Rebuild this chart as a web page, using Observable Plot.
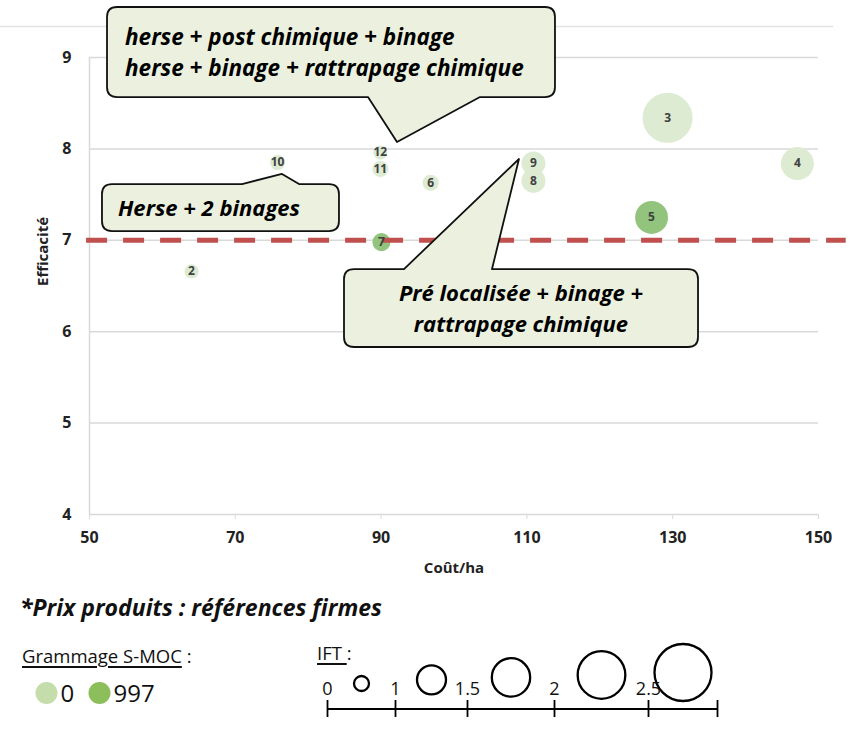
<!DOCTYPE html>
<html>
<head>
<meta charset="utf-8">
<script src="https://cdn.jsdelivr.net/npm/d3@7"></script>
<script src="https://cdn.jsdelivr.net/npm/@observablehq/plot@0.6"></script>
<style>
  body { margin: 0; background: #fff; font-family: "Open Sans", Carlito, sans-serif; }
  #wrap { position: relative; width: 850px; height: 732px; overflow: hidden; background: #fff; }
  #wrap > * { position: absolute; }
  .note { left: 20px; top: 594px; font-size: 23px; line-height: 26px; font-weight: bold; font-style: italic; color: #111; white-space: nowrap; }
  .lg { font-size: 18.5px; line-height: 20px; color: #111; white-space: nowrap; }
  .lg u { text-decoration-thickness: 1.5px; text-underline-offset: 3px; }
</style>
</head>
<body>
<div id="wrap">
  <div id="main" style="left:0;top:0"></div>
  <div class="note">*Prix produits : références firmes</div>
  <div class="lg" style="left:22px;top:646px"><u>Grammage S-MOC</u> :</div>
  <div class="lg" style="left:317px;top:643px"><u>IFT </u>:</div>
  <div id="gram" style="left:0;top:675px"></div>
  <div id="iftc" style="left:0;top:640px"></div>
  <div id="ifta" style="left:0;top:700px"></div>
</div>
<script>
const FONT = "'Open Sans', Carlito, sans-serif";

// ---- data ----
const ids        = ["2", "3", "4", "5", "6", "7", "8", "9", "10", "11", "12"];
const cout       = [64.0, 129.3, 147.1, 127.1, 96.8, 90.05, 110.9, 110.9, 75.8, 89.9, 89.9];
const efficacite = [6.66, 8.34, 7.84, 7.25, 7.63, 6.98, 7.65, 7.84, 7.85, 7.78, 7.96];
const iftValues  = [0.24, 3.0, 1.3, 1.3, 0.31, 0.39, 0.69, 0.69, 0.27, 0.31, 0.24];
const grammage   = [0, 0, 0, 997, 0, 997, 0, 0, 0, 0, 0];

const xTicks = [50, 70, 90, 110, 130, 150];
const yTicks = [4, 5, 6, 7, 8, 9];
const threshold = 7;

const gramLegend = ["0", "997"];
const iftTicks = [0, 1, 1.5, 2, 2.5, 3];
const iftTickLabels = [0, 1, 1.5, 2, 2.5];
const iftLegendCircles = [0.5, 1.25, 1.75, 2.25, 2.75];

// annotation callouts (in data units)
const callouts = [
  {lines: ["herse + post chimique + binage", "herse + binage + rattrapage chimique"],
   x1: 52.47, x2: 113.92, y1: 9.547, y2: 8.562, tail: "bottom", xa: 88.27, xb: 103.63, tx: 92.25, ty: 8.07},
  {lines: ["Herse + 2 binages"],
   x1: 51.78, x2: 84.29, y1: 7.61, y2: 7.096, tail: "top", xa: 70.99, xb: 78.81, tx: 76.47, ty: 7.72},
  {lines: ["Pré localisée + binage +", "rattrapage chimique"],
   x1: 84.98, x2: 133.54, y1: 6.68, y2: 5.827, tail: "top", xa: 93.21, xb: 105.28, tx: 108.98, ty: 7.884}
];
const calloutStyle = [
  {align: "start", padX: 18, base: [38, 69], fs: 22.5},
  {align: "start", padX: 16, base: [32], fs: 22},
  {align: "middle", padX: 0, base: [32, 63], fs: 22}
];

const data = ids.map((id, i) => ({id, cout: cout[i], eff: efficacite[i], ift: iftValues[i], gram: grammage[i]}));

const LIGHT = "#dcebd2", DARK = "#93c47d";

function calloutMark(index, scales) {
  const g = d3.create("svg:g");
  callouts.forEach((c, k) => {
    const s = calloutStyle[k];
    const X1 = scales.x(c.x1), X2 = scales.x(c.x2), Y1 = scales.y(c.y1), Y2 = scales.y(c.y2);
    const A = scales.x(c.xa), B = scales.x(c.xb), TX = scales.x(c.tx), TY = scales.y(c.ty);
    const r = 10;
    let p;
    if (c.tail === "bottom") {
      p = `M${X1+r},${Y1}H${X2-r}Q${X2},${Y1} ${X2},${Y1+r}V${Y2-r}Q${X2},${Y2} ${X2-r},${Y2}H${B}L${TX},${TY}L${A},${Y2}H${X1+r}Q${X1},${Y2} ${X1},${Y2-r}V${Y1+r}Q${X1},${Y1} ${X1+r},${Y1}Z`;
    } else {
      p = `M${X1+r},${Y1}H${A}L${TX},${TY}L${B},${Y1}H${X2-r}Q${X2},${Y1} ${X2},${Y1+r}V${Y2-r}Q${X2},${Y2} ${X2-r},${Y2}H${X1+r}Q${X1},${Y2} ${X1},${Y2-r}V${Y1+r}Q${X1},${Y1} ${X1+r},${Y1}Z`;
    }
    g.append("path").attr("d", p).attr("fill", "#ebf1de").attr("stroke", "#111")
      .attr("stroke-width", 1.8).attr("stroke-linejoin", "round");
    c.lines.forEach((t, i) => {
      g.append("text")
        .attr("x", s.align === "middle" ? (X1 + X2) / 2 : X1 + s.padX)
        .attr("y", Y1 + s.base[i])
        .attr("text-anchor", s.align)
        .attr("font-size", s.fs).attr("font-weight", "bold").attr("font-style", "italic")
        .attr("font-family", FONT).attr("fill", "#000")
        .text(t);
    });
  });
  return g.node();
}

const main = Plot.plot({
  width: 850, height: 580,
  marginLeft: 89, marginRight: 32, marginTop: 57, marginBottom: 66,
  style: {fontFamily: FONT, background: "white", overflow: "visible"},
  x: {domain: [50, 150]},
  y: {domain: [4, 9]},
  r: {type: "sqrt", domain: [0, 3], range: [0, 25]},
  color: {type: "ordinal", domain: [0, 997], range: [LIGHT, DARK]},
  marks: [
    Plot.ruleY([9.34], {x1: 37.8, x2: 152.1, stroke: "#e3e3e3", strokeWidth: 1.5}),
    Plot.gridY([5, 6, 7, 8, 9], {stroke: "#d9d9d9", strokeOpacity: 1, strokeWidth: 1.5}),
    Plot.ruleY([4], {stroke: "#d9d9d9", strokeWidth: 1.5}),
    Plot.ruleX([50], {y1: 4, y2: 9, stroke: "#d9d9d9", strokeWidth: 1.5}),
    Plot.axisX({ticks: xTicks, tickSize: 5, tickPadding: 12, stroke: "#d9d9d9", fill: "#222",
      fontSize: 16, fontWeight: "bold", label: null, tickFormat: d => String(d)}),
    Plot.axisY({ticks: yTicks, tickSize: 0, tickPadding: 18, fill: "#222",
      fontSize: 16, fontWeight: "bold", label: null, tickFormat: d => String(d)}),
    Plot.text(["Coût/ha"], {text: d => d, frameAnchor: "bottom", lineAnchor: "bottom", dy: 58,
      fontSize: 15, fontWeight: "bold", fill: "#222"}),
    Plot.text(["Efficacité"], {text: d => d, frameAnchor: "left", rotate: -90, dx: -46,
      fontSize: 15, fontWeight: "bold", fill: "#222"}),
    Plot.dot(data, {x: "cout", y: "eff", r: "ift", fill: "gram"}),
    Plot.ruleY([threshold], {x1: 49.6, x2: 153.8, stroke: "#c0504d", strokeWidth: 5, strokeDasharray: "21,16"}),
    Plot.text(data, {x: "cout", y: "eff", text: "id", fontSize: 12, fontWeight: "bold", fill: "#404040"}),
    calloutMark
  ]
});
document.getElementById("main").appendChild(main);

// Grammage legend
const gram = Plot.plot({
  width: 200, height: 35, margin: 0,
  style: {fontFamily: FONT, background: "transparent", overflow: "visible"},
  x: {type: "point", domain: gramLegend, range: [46, 99], padding: 0, axis: null},
  color: {type: "ordinal", domain: gramLegend, range: ["#c5dcab", "#8dbe5c"]},
  marks: [
    Plot.dot(gramLegend, {x: d => d, r: 11, fill: d => d, frameAnchor: "middle"}),
    Plot.text(gramLegend, {x: d => d, text: d => d, dx: 14, textAnchor: "start", fontSize: 24, fill: "#111", dy: 1})
  ]
});
document.getElementById("gram").appendChild(gram);

// IFT legend: circles + labels
const iftc = Plot.plot({
  width: 850, height: 62, margin: 0,
  style: {fontFamily: FONT, background: "transparent", overflow: "visible"},
  x: {type: "linear", domain: iftTicks, range: [327, 395, 467, 554, 648, 717], axis: null},
  y: {type: "linear", domain: [0.5, 2.75], range: [43, 32], axis: null},
  r: {type: "linear", domain: [0.5, 2.75], range: [7.5, 28.5]},
  marks: [
    Plot.dot(iftLegendCircles, {x: d => d, y: d => d, r: d => d, stroke: "#000", strokeWidth: 2.3, fill: "none"}),
    Plot.text(iftTickLabels, {x: d => d, text: d => String(d), frameAnchor: "bottom", lineAnchor: "bottom", dy: -8, fontSize: 18, fill: "#111"})
  ]
});
document.getElementById("iftc").appendChild(iftc);

// IFT legend: axis line with ticks
const ifta = Plot.plot({
  width: 850, height: 20, marginTop: 0, marginBottom: 3, marginLeft: 0, marginRight: 0,
  style: {background: "transparent", overflow: "visible"},
  x: {type: "linear", domain: iftTicks, range: [327, 395, 467, 554, 648, 717], axis: null},
  y: {domain: [-1, 1], axis: null},
  marks: [
    Plot.tickX(iftTicks, {x: d => d, stroke: "#000", strokeWidth: 1.8}),
    Plot.ruleY([0], {x1: 0, x2: 3, stroke: "#000", strokeWidth: 1.8})
  ]
});
document.getElementById("ifta").appendChild(ifta);
</script>
</body>
</html>
